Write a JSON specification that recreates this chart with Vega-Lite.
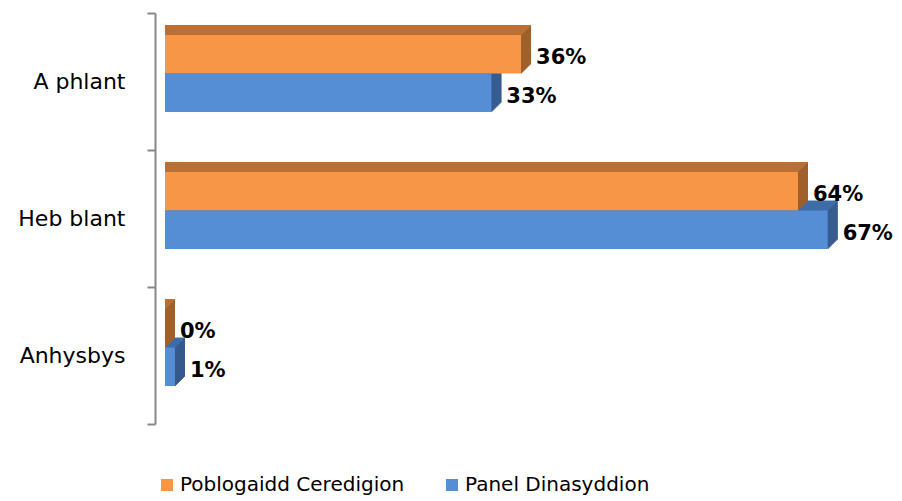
{
  "$schema": "https://vega.github.io/schema/vega-lite/v6.json",
  "width": 747,
  "height": 411,
  "autosize": {"type": "none"},
  "padding": {"left": 155, "top": 13, "right": 0, "bottom": 77},
  "background": "white",
  "config": {"view": {"stroke": null}},
  "data": {"values": [
    {"category": "A phlant", "series": "Poblogaidd Ceredigion", "value": 36, "label": "36%"},
    {"category": "A phlant", "series": "Panel Dinasyddion", "value": 33, "label": "33%"},
    {"category": "Heb blant", "series": "Poblogaidd Ceredigion", "value": 64, "label": "64%"},
    {"category": "Heb blant", "series": "Panel Dinasyddion", "value": 67, "label": "67%"},
    {"category": "Anhysbys", "series": "Poblogaidd Ceredigion", "value": 0, "label": "0%"},
    {"category": "Anhysbys", "series": "Panel Dinasyddion", "value": 1, "label": "1%"}
  ]},
  "encoding": {
    "y": {"field": "category", "type": "nominal", "sort": ["A phlant", "Heb blant", "Anhysbys"],
      "scale": {"paddingInner": 0, "paddingOuter": 0},
      "axis": {"title": null, "orient": "left", "domainColor": "#878787", "domainWidth": 2, "tickColor": "#878787", "tickWidth": 2, "tickSize": 8, "tickBand": "extent", "labelFont": "DejaVu Sans", "labelFontSize": 22, "labelColor": "#000000", "labelPadding": 22, "labelAlign": "right"}},
    "x": {"field": "value", "type": "quantitative", "scale": {"domain": [0, 100], "range": [10, 999]}, "axis": null}
  },
  "layer": [
    {"mark": {"type": "rect", "xOffset": 1}, "encoding": {"x2": {"datum": 0}, "yOffset": {"field": "series", "sort": ["Poblogaidd Ceredigion", "Panel Dinasyddion"], "scale": {"range": [21, 98], "paddingInner": 0, "paddingOuter": 0}}, "color": {"condition": {"test": "datum.series === 'Poblogaidd Ceredigion'", "value": "#BA6F34"}, "value": "#3E6CA9"}}},
    {"mark": {"type": "rect", "xOffset": 2}, "encoding": {"x2": {"datum": 0}, "yOffset": {"field": "series", "sort": ["Poblogaidd Ceredigion", "Panel Dinasyddion"], "scale": {"range": [20, 97], "paddingInner": 0, "paddingOuter": 0}}, "color": {"condition": {"test": "datum.series === 'Poblogaidd Ceredigion'", "value": "#BA6F34"}, "value": "#3E6CA9"}}},
    {"mark": {"type": "rect", "xOffset": 3}, "encoding": {"x2": {"datum": 0}, "yOffset": {"field": "series", "sort": ["Poblogaidd Ceredigion", "Panel Dinasyddion"], "scale": {"range": [19, 96], "paddingInner": 0, "paddingOuter": 0}}, "color": {"condition": {"test": "datum.series === 'Poblogaidd Ceredigion'", "value": "#BA6F34"}, "value": "#3E6CA9"}}},
    {"mark": {"type": "rect", "xOffset": 4}, "encoding": {"x2": {"datum": 0}, "yOffset": {"field": "series", "sort": ["Poblogaidd Ceredigion", "Panel Dinasyddion"], "scale": {"range": [18, 95], "paddingInner": 0, "paddingOuter": 0}}, "color": {"condition": {"test": "datum.series === 'Poblogaidd Ceredigion'", "value": "#BA6F34"}, "value": "#3E6CA9"}}},
    {"mark": {"type": "rect", "xOffset": 5}, "encoding": {"x2": {"datum": 0}, "yOffset": {"field": "series", "sort": ["Poblogaidd Ceredigion", "Panel Dinasyddion"], "scale": {"range": [17, 94], "paddingInner": 0, "paddingOuter": 0}}, "color": {"condition": {"test": "datum.series === 'Poblogaidd Ceredigion'", "value": "#BA6F34"}, "value": "#3E6CA9"}}},
    {"mark": {"type": "rect", "xOffset": 6}, "encoding": {"x2": {"datum": 0}, "yOffset": {"field": "series", "sort": ["Poblogaidd Ceredigion", "Panel Dinasyddion"], "scale": {"range": [16, 93], "paddingInner": 0, "paddingOuter": 0}}, "color": {"condition": {"test": "datum.series === 'Poblogaidd Ceredigion'", "value": "#BA6F34"}, "value": "#3E6CA9"}}},
    {"mark": {"type": "rect", "xOffset": 7}, "encoding": {"x2": {"datum": 0}, "yOffset": {"field": "series", "sort": ["Poblogaidd Ceredigion", "Panel Dinasyddion"], "scale": {"range": [15, 92], "paddingInner": 0, "paddingOuter": 0}}, "color": {"condition": {"test": "datum.series === 'Poblogaidd Ceredigion'", "value": "#BA6F34"}, "value": "#3E6CA9"}}},
    {"mark": {"type": "rect", "xOffset": 8}, "encoding": {"x2": {"datum": 0}, "yOffset": {"field": "series", "sort": ["Poblogaidd Ceredigion", "Panel Dinasyddion"], "scale": {"range": [14, 91], "paddingInner": 0, "paddingOuter": 0}}, "color": {"condition": {"test": "datum.series === 'Poblogaidd Ceredigion'", "value": "#BA6F34"}, "value": "#3E6CA9"}}},
    {"mark": {"type": "rect", "xOffset": 9}, "encoding": {"x2": {"datum": 0}, "yOffset": {"field": "series", "sort": ["Poblogaidd Ceredigion", "Panel Dinasyddion"], "scale": {"range": [13, 90], "paddingInner": 0, "paddingOuter": 0}}, "color": {"condition": {"test": "datum.series === 'Poblogaidd Ceredigion'", "value": "#BA6F34"}, "value": "#3E6CA9"}}},
    {"mark": {"type": "rect", "xOffset": 10}, "encoding": {"x2": {"datum": 0}, "yOffset": {"field": "series", "sort": ["Poblogaidd Ceredigion", "Panel Dinasyddion"], "scale": {"range": [12, 89], "paddingInner": 0, "paddingOuter": 0}}, "color": {"condition": {"test": "datum.series === 'Poblogaidd Ceredigion'", "value": "#BA6F34"}, "value": "#3E6CA9"}}},
    {"mark": {"type": "rect", "xOffset": 0, "x2Offset": 1}, "encoding": {"x2": {"field": "value"}, "yOffset": {"field": "series", "sort": ["Poblogaidd Ceredigion", "Panel Dinasyddion"], "scale": {"range": [22, 99], "paddingInner": 0, "paddingOuter": 0}}, "color": {"condition": {"test": "datum.series === 'Poblogaidd Ceredigion'", "value": "#A0602B"}, "value": "#35588A"}}},
    {"mark": {"type": "rect", "xOffset": 1, "x2Offset": 2}, "encoding": {"x2": {"field": "value"}, "yOffset": {"field": "series", "sort": ["Poblogaidd Ceredigion", "Panel Dinasyddion"], "scale": {"range": [21, 98], "paddingInner": 0, "paddingOuter": 0}}, "color": {"condition": {"test": "datum.series === 'Poblogaidd Ceredigion'", "value": "#A0602B"}, "value": "#35588A"}}},
    {"mark": {"type": "rect", "xOffset": 2, "x2Offset": 3}, "encoding": {"x2": {"field": "value"}, "yOffset": {"field": "series", "sort": ["Poblogaidd Ceredigion", "Panel Dinasyddion"], "scale": {"range": [20, 97], "paddingInner": 0, "paddingOuter": 0}}, "color": {"condition": {"test": "datum.series === 'Poblogaidd Ceredigion'", "value": "#A0602B"}, "value": "#35588A"}}},
    {"mark": {"type": "rect", "xOffset": 3, "x2Offset": 4}, "encoding": {"x2": {"field": "value"}, "yOffset": {"field": "series", "sort": ["Poblogaidd Ceredigion", "Panel Dinasyddion"], "scale": {"range": [19, 96], "paddingInner": 0, "paddingOuter": 0}}, "color": {"condition": {"test": "datum.series === 'Poblogaidd Ceredigion'", "value": "#A0602B"}, "value": "#35588A"}}},
    {"mark": {"type": "rect", "xOffset": 4, "x2Offset": 5}, "encoding": {"x2": {"field": "value"}, "yOffset": {"field": "series", "sort": ["Poblogaidd Ceredigion", "Panel Dinasyddion"], "scale": {"range": [18, 95], "paddingInner": 0, "paddingOuter": 0}}, "color": {"condition": {"test": "datum.series === 'Poblogaidd Ceredigion'", "value": "#A0602B"}, "value": "#35588A"}}},
    {"mark": {"type": "rect", "xOffset": 5, "x2Offset": 6}, "encoding": {"x2": {"field": "value"}, "yOffset": {"field": "series", "sort": ["Poblogaidd Ceredigion", "Panel Dinasyddion"], "scale": {"range": [17, 94], "paddingInner": 0, "paddingOuter": 0}}, "color": {"condition": {"test": "datum.series === 'Poblogaidd Ceredigion'", "value": "#A0602B"}, "value": "#35588A"}}},
    {"mark": {"type": "rect", "xOffset": 6, "x2Offset": 7}, "encoding": {"x2": {"field": "value"}, "yOffset": {"field": "series", "sort": ["Poblogaidd Ceredigion", "Panel Dinasyddion"], "scale": {"range": [16, 93], "paddingInner": 0, "paddingOuter": 0}}, "color": {"condition": {"test": "datum.series === 'Poblogaidd Ceredigion'", "value": "#A0602B"}, "value": "#35588A"}}},
    {"mark": {"type": "rect", "xOffset": 7, "x2Offset": 8}, "encoding": {"x2": {"field": "value"}, "yOffset": {"field": "series", "sort": ["Poblogaidd Ceredigion", "Panel Dinasyddion"], "scale": {"range": [15, 92], "paddingInner": 0, "paddingOuter": 0}}, "color": {"condition": {"test": "datum.series === 'Poblogaidd Ceredigion'", "value": "#A0602B"}, "value": "#35588A"}}},
    {"mark": {"type": "rect", "xOffset": 8, "x2Offset": 9}, "encoding": {"x2": {"field": "value"}, "yOffset": {"field": "series", "sort": ["Poblogaidd Ceredigion", "Panel Dinasyddion"], "scale": {"range": [14, 91], "paddingInner": 0, "paddingOuter": 0}}, "color": {"condition": {"test": "datum.series === 'Poblogaidd Ceredigion'", "value": "#A0602B"}, "value": "#35588A"}}},
    {"mark": {"type": "rect", "xOffset": 9, "x2Offset": 10}, "encoding": {"x2": {"field": "value"}, "yOffset": {"field": "series", "sort": ["Poblogaidd Ceredigion", "Panel Dinasyddion"], "scale": {"range": [13, 90], "paddingInner": 0, "paddingOuter": 0}}, "color": {"condition": {"test": "datum.series === 'Poblogaidd Ceredigion'", "value": "#A0602B"}, "value": "#35588A"}}},
    {"mark": {"type": "rect"}, "encoding": {"x2": {"datum": 0},
      "yOffset": {"field": "series", "sort": ["Poblogaidd Ceredigion", "Panel Dinasyddion"], "scale": {"range": [22, 99], "paddingInner": 0, "paddingOuter": 0}},
      "color": {"field": "series", "type": "nominal", "sort": ["Poblogaidd Ceredigion", "Panel Dinasyddion"],
        "scale": {"domain": ["Poblogaidd Ceredigion", "Panel Dinasyddion"], "range": ["#F79646", "#558ED5"]},
        "legend": {"title": null, "orient": "none", "direction": "horizontal", "legendX": 2, "legendY": 462, "symbolType": "square", "symbolSize": 144, "symbolStrokeWidth": 0, "labelFont": "DejaVu Sans", "labelFontSize": 20, "labelColor": "#000000", "labelOffset": 3, "columnPadding": 37, "labelLimit": 400}}}},
    {"mark": {"type": "text", "align": "left", "baseline": "middle", "dx": 15, "dy": 4, "font": "DejaVu Sans", "fontSize": 21, "fontWeight": "bold", "color": "#000000"},
      "encoding": {"text": {"field": "label"}, "yOffset": {"field": "series", "sort": ["Poblogaidd Ceredigion", "Panel Dinasyddion"], "scale": {"type": "point", "range": [41.25, 79.75], "padding": 0}}}}
  ],
  "resolve": {"scale": {"yOffset": "independent"}}
}
